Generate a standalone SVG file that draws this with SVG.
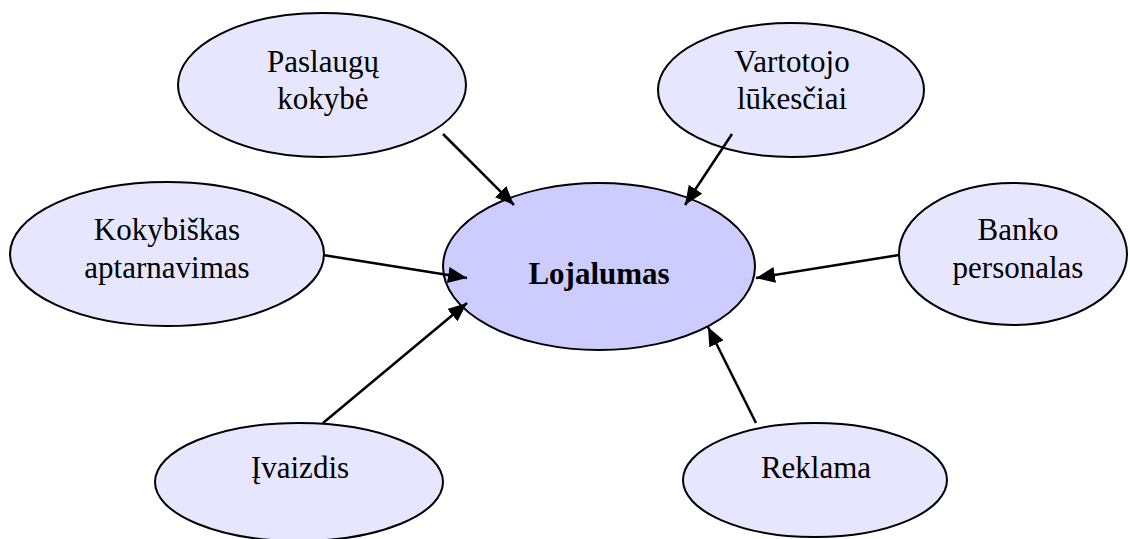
<svg xmlns="http://www.w3.org/2000/svg" width="1130" height="539" viewBox="0 0 1130 539">
  <style>
    .node { fill: #E6E6FF; stroke: #000; stroke-width: 2; }
    .hub { fill: #CCCCFF; stroke: #000; stroke-width: 2; }
    .label { font-family: "Liberation Serif", "Times New Roman", serif; font-size: 31px; fill: #000; text-anchor: middle; }
    .hub-label { font-weight: bold; }
    .edge { stroke: #000; stroke-width: 2.5; fill: none; marker-end: url(#arrow); }
  </style>
  <defs>
    <!-- filled triangular arrowhead, tip at the line end -->
    <marker id="arrow" markerUnits="userSpaceOnUse" markerWidth="20" markerHeight="16" refX="19" refY="8" orient="auto">
      <path d="M0,0 L19,8 L0,16 Z" fill="#000"/>
    </marker>
  </defs>
  <rect width="1130" height="539" fill="#fff"/>

  <g id="paslaugu-kokybe">
    <ellipse class="node" cx="322" cy="85" rx="144" ry="72"/>
    <text class="label" x="323" y="72">Paslaugų</text>
    <text class="label" x="323" y="109">kokybė</text>
  </g>

  <g id="vartotojo-lukesciai">
    <ellipse class="node" cx="791" cy="90" rx="133" ry="67"/>
    <text class="label" x="792" y="72">Vartotojo</text>
    <text class="label" x="792" y="109">lūkesčiai</text>
  </g>

  <g id="kokybiskas-aptarnavimas">
    <ellipse class="node" cx="167" cy="254" rx="157" ry="72"/>
    <text class="label" x="167" y="240">Kokybiškas</text>
    <text class="label" x="167" y="278">aptarnavimas</text>
  </g>

  <g id="banko-personalas">
    <ellipse class="node" cx="1013" cy="254" rx="114" ry="71"/>
    <text class="label" x="1018" y="240">Banko</text>
    <text class="label" x="1018" y="278">personalas</text>
  </g>

  <g id="ivaizdis">
    <ellipse class="node" cx="299" cy="482" rx="144" ry="59"/>
    <text class="label" x="300" y="478">Įvaizdis</text>
  </g>

  <g id="reklama">
    <ellipse class="node" cx="815" cy="480" rx="132" ry="57"/>
    <text class="label" x="816" y="478">Reklama</text>
  </g>

  <g id="lojalumas">
    <ellipse class="hub" cx="599" cy="266.5" rx="156" ry="83.5"/>
    <text class="label hub-label" x="599" y="284">Lojalumas</text>
  </g>

  <g id="connectors">
    <line class="edge" x1="443" y1="134" x2="514" y2="205"/>
    <line class="edge" x1="732" y1="134" x2="685" y2="205"/>
    <line class="edge" x1="323" y1="255" x2="467" y2="278"/>
    <line class="edge" x1="899" y1="255" x2="756" y2="278"/>
    <line class="edge" x1="323" y1="423" x2="467" y2="303"/>
    <line class="edge" x1="756" y1="423" x2="708" y2="327"/>
  </g>
</svg>
